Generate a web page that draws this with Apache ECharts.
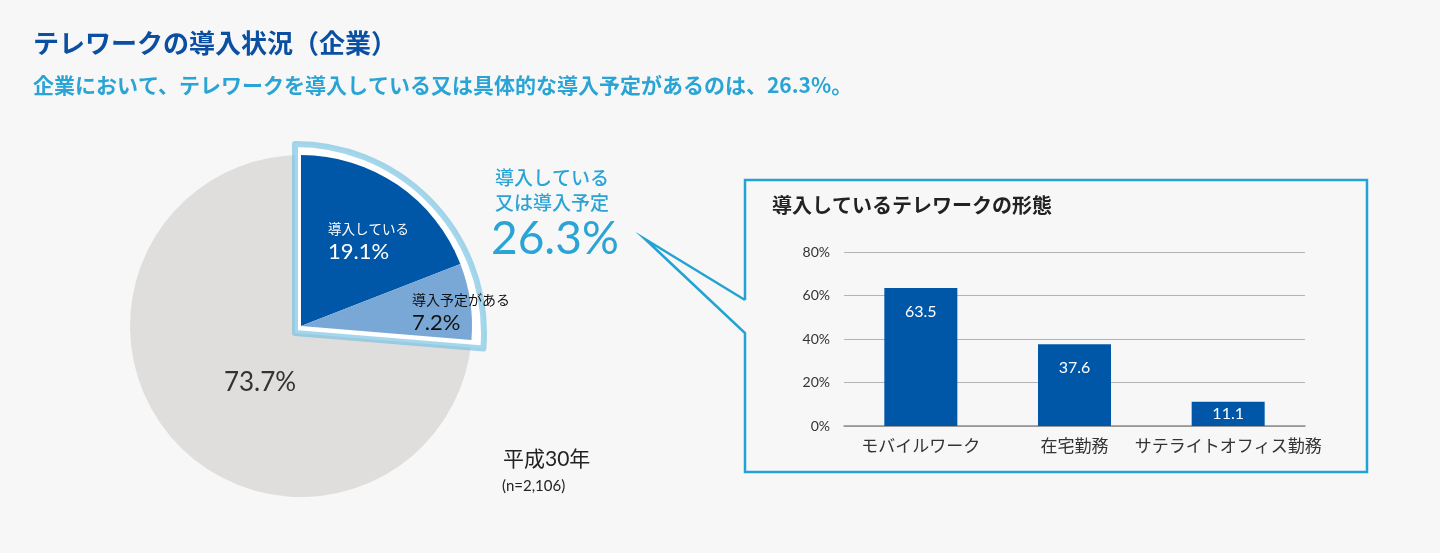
<!DOCTYPE html>
<html>
<head>
<meta charset="utf-8">
<script src="https://cdn.jsdelivr.net/npm/echarts@6/dist/echarts.min.js"></script>
<style>
html,body{margin:0;padding:0;background:#f7f7f7;}
#main{width:1440px;height:553px;}
</style>
</head>
<body>
<div id="main"></div>
<script>
// ---- data ----
const pieNames = ['導入している', '導入予定がある', '導入していない'];
const pieValues = [19.1, 7.2, 73.7];
const combinedLabel = ['導入している', '又は導入予定'];
const combinedValue = 26.3;
const barCategories = ['モバイルワーク', '在宅勤務', 'サテライトオフィス勤務'];
const barValues = [63.5, 37.6, 11.1];
const yTicks = [0, 20, 40, 60, 80];
const titleText = 'テレワークの導入状況（企業）';
const subtitleText = '企業において、テレワークを導入している又は具体的な導入予定があるのは、26.3%。';
const barTitle = '導入しているテレワークの形態';
const yearText = '平成30年';
const sampleText = '(n=2,106)';

const FONT = 'Lato, "Noto Sans CJK JP", sans-serif';
const JP = '"Noto Sans CJK JP", sans-serif';
const C_DARK = '#0057a8', C_LIGHT = '#79a7d6', C_GRAY = '#e0dedc', C_CYAN = '#22a3d3';

const chart = echarts.init(document.getElementById('main'), null, {renderer: 'canvas'});

const pieCenter = [301, 326];
const pieR = 171;

const labelPos = {0: [328, 229], 1: [412, 300], 2: [260, 383]};

const option = {
  backgroundColor: '#f7f7f7',
  animation: false,
  graphic: [
    {type: 'text', left: 33, top: 30, style: {text: titleText, font: 'bold 26px ' + JP, fill: '#0b4fa2'}},
    {type: 'text', left: 33, top: 75, style: {text: subtitleText, font: 'bold 21px ' + JP, fill: '#29a4d4'}},
    {type: 'text', left: 495, top: 165, style: {text: combinedLabel.join('\n'), font: '500 19px ' + JP, fill: '#29a4d4', lineHeight: 25}},
    {type: 'text', left: 491, top: 216, style: {text: combinedValue.toFixed(1) + '%', font: '400 46px ' + FONT, fill: '#29a4d4'}},
    {type: 'text', left: 503, top: 449, style: {text: yearText, font: '21px ' + FONT, fill: '#222'}},
    {type: 'text', left: 502, top: 479, style: {text: sampleText, font: '15px ' + FONT, fill: '#222'}},
    {type: 'text', left: 772, top: 195, style: {text: barTitle, font: 'bold 20px ' + JP, fill: '#222'}},
    {type: 'polyline', shape: {points: [[745,300],[645,239],[745,333],[745,472],[1367,472],[1367,180],[745,180],[745,300]]},
      style: {stroke: C_CYAN, lineWidth: 2.5, fill: null, lineJoin: 'miter'}, z: 10}
  ],
  grid: [{left: 844, top: 252, width: 461, height: 174}],
  xAxis: [{
    type: 'category', gridIndex: 0, data: barCategories,
    axisLine: {show: true, lineStyle: {color: '#8f8f8f', width: 1.5}},
    axisTick: {show: false},
    axisLabel: {interval: 0, fontSize: 17, color: '#333', margin: 12, fontFamily: FONT, hideOverlap: false}
  }],
  yAxis: [{
    type: 'value', gridIndex: 0, min: yTicks[0], max: yTicks[yTicks.length - 1], interval: yTicks[1] - yTicks[0],
    axisLine: {show: false}, axisTick: {show: false},
    axisLabel: {formatter: '{value}%', fontSize: 14, color: '#333', margin: 14, fontFamily: FONT},
    splitLine: {lineStyle: {color: '#b4b4b4', width: 1}}
  }],
  series: [
    {
      type: 'bar', xAxisIndex: 0, yAxisIndex: 0, barWidth: 73, silent: true,
      itemStyle: {color: C_DARK},
      data: barValues.map(v => ({
        value: v,
        label: {position: v < 20 ? 'inside' : 'insideTop', distance: 16}
      })),
      label: {show: true, color: '#fff', fontSize: 16, fontFamily: FONT, formatter: p => p.value.toFixed(1)}
    },
    // base gray pie
    {
      type: 'pie', center: pieCenter, radius: pieR, startAngle: 90, silent: true,
      data: pieValues.map((v, i) => ({
        name: pieNames[i], value: v,
        itemStyle: {color: i === 2 ? C_GRAY : 'rgba(0,0,0,0)'},
        label: {show: i === 2}
      })),
      label: {position: 'inside', formatter: p => p.value.toFixed(1) + '%', fontSize: 26, fontWeight: 400, color: '#333', fontFamily: FONT},
      labelLayout: p => ({x: labelPos[2][0], y: labelPos[2][1], align: 'center', verticalAlign: 'middle'}),
      emphasis: {disabled: true}, z: 1
    },
    // highlight frame around combined slice
    {
      type: 'pie', center: [295, 333], radius: 189, startAngle: 90, silent: true,
      data: [
        {name: 'frame', value: combinedValue, itemStyle: {color: '#ffffff', borderColor: 'rgba(110,190,225,0.62)', borderWidth: 6, borderJoin: 'round'}},
        {name: 'rest', value: 100 - combinedValue, itemStyle: {color: 'rgba(0,0,0,0)', borderWidth: 0}}
      ],
      label: {show: false}, emphasis: {disabled: true}, z: 2
    },
    // blue slices
    {
      type: 'pie', center: pieCenter, radius: pieR, startAngle: 90, silent: true,
      data: pieValues.map((v, i) => ({
        name: pieNames[i], value: v,
        itemStyle: {color: [C_DARK, C_LIGHT, 'rgba(0,0,0,0)'][i]},
        label: {show: i < 2, rich: {
          n: {fontSize: i === 0 ? 13.5 : 14, color: i === 0 ? '#fff' : '#111', fontFamily: JP, lineHeight: 20},
          v: {fontSize: 22, fontWeight: 400, color: i === 0 ? '#fff' : '#111', fontFamily: FONT, lineHeight: 26}
        }}
      })),
      label: {position: 'inside', formatter: p => '{n|' + p.name + '}\n{v|' + p.value.toFixed(1) + '%}'},
      labelLayout: p => ({x: labelPos[p.dataIndex][0], y: labelPos[p.dataIndex][1] - 10, align: 'left', verticalAlign: 'top'}),
      emphasis: {disabled: true}, z: 3
    }
  ]
};
chart.setOption(option);
</script>
</body>
</html>
